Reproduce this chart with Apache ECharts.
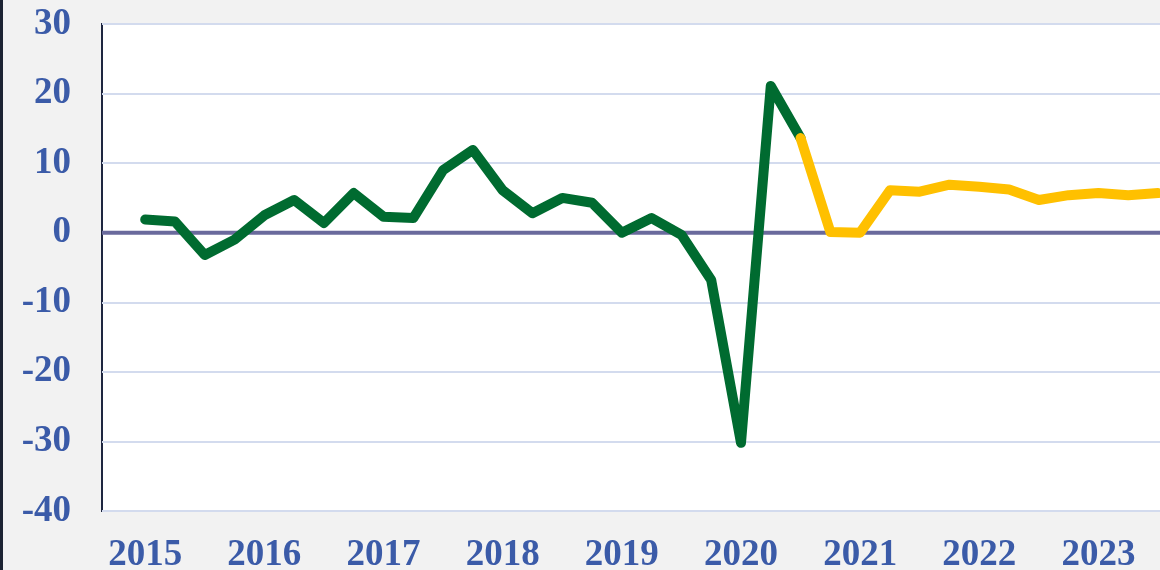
<!DOCTYPE html>
<html>
<head>
<meta charset="utf-8">
<script src="https://cdn.jsdelivr.net/npm/echarts@6/dist/echarts.min.js"></script>
<style>
  html, body { margin: 0; padding: 0; background: #f2f2f2; }
  #chart { width: 1160px; height: 570px; border-left: 3px solid #1c2333; box-sizing: border-box; }
</style>
</head>
<body>
<div id="chart"></div>
<script>
// quarterly values, 2015 Q1 .. 2023 Q3
const years = ['2015', '2016', '2017', '2018', '2019', '2020', '2021', '2022', '2023'];
const actual = [1.9, 1.6, -3.2, -1.0, 2.5, 4.7, 1.4, 5.7, 2.3, 2.1,
                9.0, 11.9, 6.1, 2.8, 5.0, 4.3, 0.0, 2.1, -0.3, -6.8,
                -30.2, 21.1, 13.6];
const forecast = [13.6, 0.1, 0.0, 6.1, 5.9, 6.9, 6.6, 6.2, 4.7, 5.4, 5.7, 5.4, 5.7];
const forecastStart = 22;
const yTicks = [-40, -30, -20, -10, 0, 10, 20, 30];

const labelColor = '#3b5ba8';
const labelFont = { fontFamily: 'Liberation Serif', fontWeight: 'bold', fontSize: 37, color: labelColor };

const chart = echarts.init(document.getElementById('chart'));
chart.setOption({
    animation: false,
    backgroundColor: '#f2f2f2',
    grid: {
        left: 99,
        right: -4,
        top: 24,
        bottom: 59,
        containLabel: false,
        outerBoundsMode: 'none',
        show: true,
        backgroundColor: '#ffffff',
        borderColor: '#1e2640',
        borderWidth: 2
    },
    xAxis: {
        type: 'value',
        min: -1.45,
        max: 34.2,
        axisLine: { show: false },
        axisTick: { show: false },
        splitLine: { show: false },
        axisLabel: Object.assign({
            customValues: years.map((y, i) => i * 4),
            formatter: v => years[Math.round(v / 4)],
            margin: 26
        }, labelFont)
    },
    yAxis: {
        type: 'value',
        min: yTicks[0],
        max: yTicks[yTicks.length - 1],
        interval: 10,
        axisLine: { show: false },
        axisTick: { show: false },
        splitLine: { lineStyle: { color: '#d3dbee', width: 2 } },
        axisLabel: Object.assign({ margin: 31 }, labelFont)
    },
    series: [
        {
            type: 'line',
            data: [[-1.45, 0], [34.2, 0]],
            symbol: 'none',
            silent: true,
            lineStyle: { color: '#6a6a9c', width: 4 },
            z: 1
        },
        {
            name: 'Actual',
            type: 'line',
            data: actual.map((v, i) => [i, v]),
            symbol: 'none',
            lineStyle: { color: '#006b30', width: 10, cap: 'round', join: 'round' },
            z: 3
        },
        {
            name: 'Forecast',
            type: 'line',
            data: forecast.map((v, i) => [forecastStart + i, v]),
            symbol: 'none',
            lineStyle: { color: '#ffc000', width: 10, cap: 'round', join: 'round' },
            z: 4
        }
    ]
});
</script>
</body>
</html>
